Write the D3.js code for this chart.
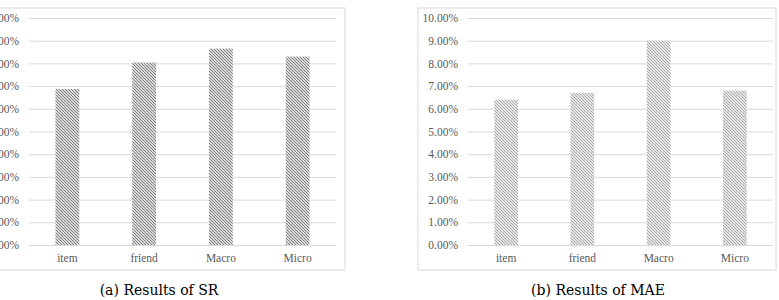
<!DOCTYPE html>
<html>
<head>
<meta charset="utf-8">
<script src="https://cdn.jsdelivr.net/npm/d3@7"></script>
<style>
  body { margin: 0; background: #fff; }
  svg { display: block; }
</style>
</head>
<body>
<svg id="fig" width="779" height="300"></svg>
<script>
// data
let categories = ['item', 'friend', 'Macro', 'Micro'];
let srValues = [68.7, 80.4, 86.5, 83.0];   // percent
let maeValues = [6.4, 6.7, 9.0, 6.8];      // percent
let srTicks = d3.range(0, 101, 10);
let maeTicks = d3.range(0, 10.01, 1);

let svg = d3.select('#fig');
let defs = svg.append('defs');

// hatch patterns (wide downward diagonal)
function addHatch(id, color) {
	let p = defs.append('pattern').attr('id', id)
			.attr('patternUnits', 'userSpaceOnUse')
			.attr('width', 3).attr('height', 3);
	p.append('rect').attr('width', 3).attr('height', 3).attr('fill', '#ffffff');
	p.append('path').attr('d', 'M-1,-1 L4,4 M-1,2 L1,4 M2,-1 L4,1')
			.attr('stroke', color).attr('stroke-width', 1.1);
}
addHatch('hatchDark', '#7a7a7a');
addHatch('hatchLight', '#a6a6a6');

/**
 * Draws one bar panel
 */
function drawPanel(cfg) {
	let g = svg.append('g');

	// outer frame
	g.append('rect')
			.attr('x', cfg.frame[0]).attr('y', 8)
			.attr('width', cfg.frame[1] - cfg.frame[0]).attr('height', 262)
			.attr('fill', 'none').attr('stroke', '#d9d9d9');

	let x = d3.scaleBand().domain(categories).range([cfg.x0, cfg.x1])
			.paddingInner(0.69).paddingOuter(0.345);
	let y = d3.scaleLinear().domain([0, cfg.max]).range([245, 18]);

	// grid + labels
	let axis = g.append('g').attr('transform', `translate(${cfg.x0},0)`)
			.call(d3.axisLeft(y).tickValues(cfg.ticks)
				.tickSize(-(cfg.x1 - cfg.x0)).tickPadding(10)
				.tickFormat(d => d.toFixed(2) + '%'));
	axis.select('.domain').remove();
	axis.selectAll('line').attr('stroke', '#d9d9d9');
	axis.selectAll('text').attr('fill', '#595959')
			.style('font-family', '"Liberation Serif", serif').style('font-size', '11.5px');

	g.selectAll('rect.bar').data(cfg.values).enter().append('rect')
			.attr('class', 'bar')
			.attr('x', (d, i) => x(categories[i]))
			.attr('y', d => y(d))
			.attr('width', x.bandwidth())
			.attr('height', d => y(0) - y(d))
			.attr('fill', `url(#${cfg.hatch})`);

	let xAxis = g.append('g').attr('transform', 'translate(0,245)')
			.call(d3.axisBottom(x).tickSize(0).tickPadding(9));
	xAxis.select('.domain').remove();
	xAxis.selectAll('text').attr('fill', '#595959')
			.style('font-family', '"Liberation Serif", serif').style('font-size', '11.5px');

	g.append('text').text(cfg.caption)
			.attr('x', cfg.captionX).attr('y', 295)
			.attr('text-anchor', 'middle')
			.style('font-family', '"DejaVu Serif", serif').style('font-size', '14px')
			.attr('fill', '#000');
}

drawPanel({frame: [-30, 345], x0: 29, x1: 336, max: 100, ticks: srTicks, values: srValues,
	hatch: 'hatchDark', caption: '(a)  Results of SR', captionX: 159});
drawPanel({frame: [418, 776], x0: 468, x1: 773, max: 10, ticks: maeTicks, values: maeValues,
	hatch: 'hatchLight', caption: '(b)  Results of MAE', captionX: 598});
</script>
</body>
</html>
